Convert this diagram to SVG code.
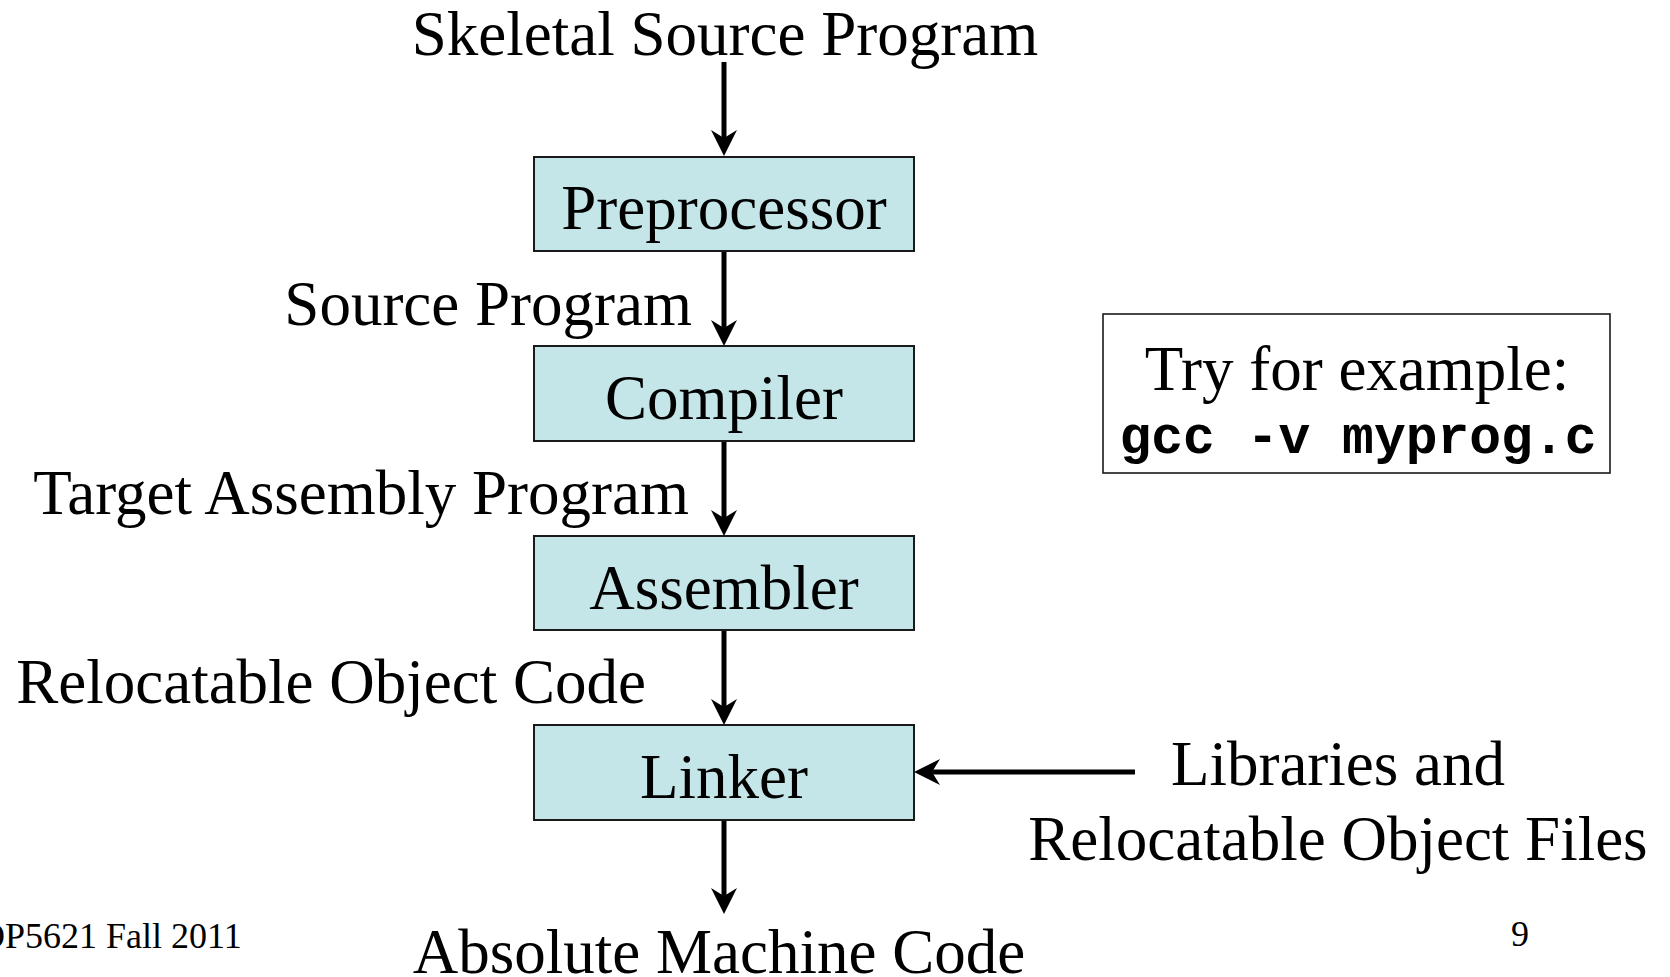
<svg xmlns="http://www.w3.org/2000/svg" width="1670" height="977" viewBox="0 0 1670 977">
<style>
  .t { font-family: "Liberation Serif", "Times New Roman", serif; font-size: 63px; fill: #000; }
  .c { text-anchor: middle; }
  .r { text-anchor: end; }
  .small { font-family: "Liberation Serif", "Times New Roman", serif; font-size: 36px; fill: #000; }
  .mono { font-family: "Liberation Mono", "Courier New", monospace; font-size: 53px; font-weight: bold; fill: #000; text-anchor: middle; }
  .box { fill: #c5e6e8; stroke: #1a1a1a; stroke-width: 2; }
  .note { fill: #fff; stroke: #1a1a1a; stroke-width: 1.6; }
  .arr { stroke: #000; stroke-width: 5; fill: none; marker-end: url(#ah); }
</style>
<defs>
  <marker id="ah" markerUnits="userSpaceOnUse" viewBox="0 0 26 26" markerWidth="26" markerHeight="26" refX="16" refY="13" orient="auto">
    <path d="M26,13 L0,0 L8,13 L0,26 Z" fill="#000"/>
  </marker>
</defs>
<rect width="1670" height="977" fill="#fff"/>

<g id="connectors">
  <line class="arr" x1="724" y1="62" x2="724" y2="146"/>
  <line class="arr" x1="724" y1="251" x2="724" y2="336"/>
  <line class="arr" x1="724" y1="441" x2="724" y2="526"/>
  <line class="arr" x1="724" y1="630" x2="724" y2="715"/>
  <line class="arr" x1="724" y1="820" x2="724" y2="904"/>
  <line class="arr" x1="1135" y1="772" x2="924" y2="772"/>
</g>

<g id="label-skeletal"><text class="t c" x="725" y="55">Skeletal Source Program</text></g>

<g id="preprocessor">
  <rect class="box" x="534" y="157" width="380" height="94"/>
  <text class="t c" x="724" y="229">Preprocessor</text>
</g>

<g id="label-source"><text class="t r" x="692" y="325">Source Program</text></g>

<g id="compiler">
  <rect class="box" x="534" y="346" width="380" height="95"/>
  <text class="t c" x="724" y="419">Compiler</text>
</g>

<g id="label-target"><text class="t r" x="689" y="514">Target Assembly Program</text></g>

<g id="assembler">
  <rect class="box" x="534" y="536" width="380" height="94"/>
  <text class="t c" x="724" y="609">Assembler</text>
</g>

<g id="label-relocatable"><text class="t r" x="646" y="703">Relocatable Object Code</text></g>

<g id="linker">
  <rect class="box" x="534" y="725" width="380" height="95"/>
  <text class="t c" x="724" y="798">Linker</text>
</g>

<g id="label-absolute"><text class="t c" x="719" y="973">Absolute Machine Code</text></g>

<g id="label-libraries">
  <text class="t c" x="1338" y="785">Libraries and</text>
  <text class="t c" x="1338" y="860">Relocatable Object Files</text>
</g>

<g id="note">
  <rect class="note" x="1103" y="314" width="507" height="159"/>
  <text class="t c" x="1357" y="390">Try for example:</text>
  <text class="mono" x="1358" y="453">gcc -v myprog.c</text>
</g>

<g id="footer">
  <text class="small" x="-21" y="948">OP5621 Fall 2011</text>
  <text class="small c" x="1520" y="946">9</text>
</g>
</svg>
